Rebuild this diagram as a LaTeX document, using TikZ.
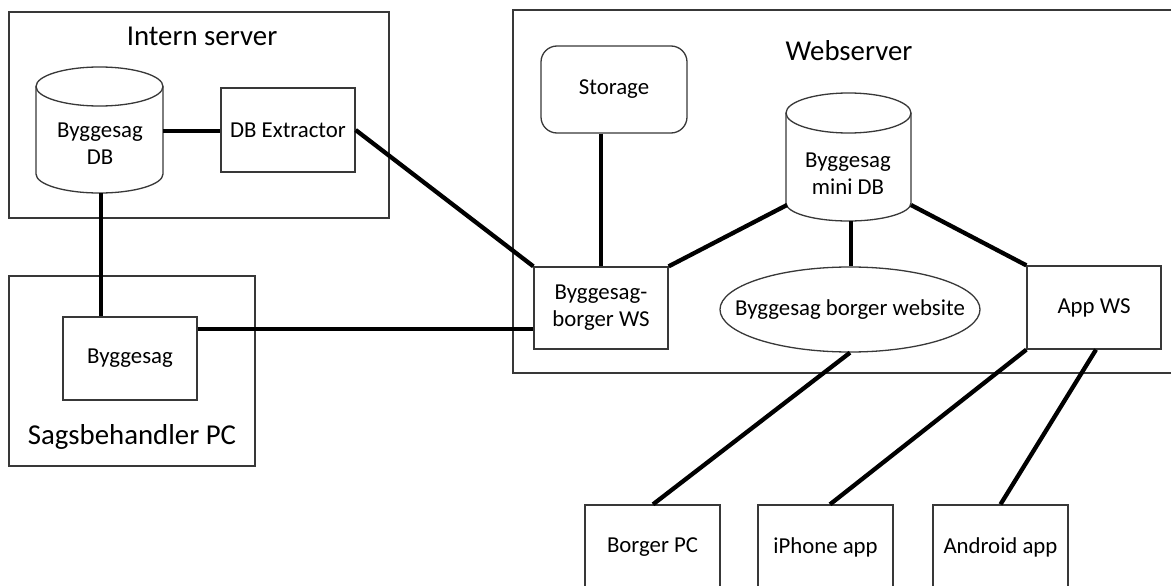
\documentclass[tikz,border=0pt]{standalone}
\usepackage{fontspec}
\setmainfont{Carlito}
\usetikzlibrary{shapes.geometric}
\begin{document}
\begin{tikzpicture}[x=1pt,y=-1pt,
  boxline/.style={draw=black!78,line width=1.3pt},
  frame/.style={boxline,rectangle,inner sep=0pt},
  unit/.style={boxline,rectangle,fill=white,inner sep=0pt,font=\fontsize{22.8}{27}\selectfont,align=center},
  title/.style={font=\fontsize{28.8}{32}\selectfont,inner sep=0pt},
  label/.style={font=\fontsize{22.8}{27}\selectfont,align=center,inner sep=0pt},
  link/.style={draw=black,line width=4.3pt}]
\fill[white] (0,0) rectangle (1171,586);
\useasboundingbox (0,0) rectangle (1171,586);

% --- Intern server ---
\node[frame,minimum width=380pt,minimum height=206pt] (intern) at (199,115) {};
\node[title] (interntitle) at (202,36) {Intern server};

% database cylinder: Byggesag DB
\node[inner sep=0pt,minimum width=127pt,minimum height=126pt] (db) at (99.5,130) {};
\filldraw[boxline,fill=white] (36,86.5) -- (36,174)
  arc[start angle=180,end angle=360,x radius=63.5pt,y radius=19pt] -- (163,86.5);
\draw[boxline] (99.5,86.5) ellipse[x radius=63.5pt,y radius=19.5pt];
\node[label] (dblabel) at (100,143.5) {Byggesag\\DB};

\node[unit,minimum width=134pt,minimum height=84pt] (extractor) at (288,130) {DB Extractor};

% --- Sagsbehandler PC ---
\node[frame,minimum width=246pt,minimum height=190pt] (sagsb) at (132,371) {};
\node[title] (sagsbtitle) at (132,437) {Sagsbehandler PC};
\node[unit,minimum width=134pt,minimum height=83pt] (byggesag) at (130,358.5) {Byggesag};

% --- Webserver ---
\node[frame,minimum width=667pt,minimum height=363pt] (web) at (846.5,191.5) {};
\node[title] (webtitle) at (849,51) {Webserver};
\node[unit,rounded corners=16pt,minimum width=146pt,minimum height=87pt] (storage) at (614,89.5) {Storage};
\node[unit,minimum width=134pt,minimum height=82pt] (ws) at (601,308) {Byggesag-\\borger WS};

% database cylinder: Byggesag mini DB
\node[inner sep=0pt,minimum width=125pt,minimum height=128pt] (minidb) at (848.5,157) {};
\filldraw[boxline,fill=white] (786,113) -- (786,203)
  arc[start angle=180,end angle=360,x radius=62.5pt,y radius=18pt] -- (911,113);
\draw[boxline] (848.5,113) ellipse[x radius=62.5pt,y radius=20pt];
\node[label] (minidblabel) at (848,173.5) {Byggesag\\mini DB};
\coordinate (minidbW) at (787,205);
\coordinate (minidbE) at (911,205);
\coordinate (minidbS) at (851,221);

% website: ellipse outline with its caption on top
\node[boxline,ellipse,inner sep=0pt,minimum width=260pt,minimum height=85pt] (website) at (850,309.5) {};
\node[label] (websitelabel) at (850,309.5) {Byggesag borger website};
\node[unit,minimum width=134pt,minimum height=83pt] (appws) at (1094,307.5) {App WS};

% --- clients ---
\node[unit,minimum width=135pt,minimum height=95pt] (borgerpc) at (652.5,552.5) {};
\node[label] at (652.5,547) {Borger PC};
\node[unit,minimum width=135pt,minimum height=95pt] (iphone) at (825.5,552.5) {};
\node[label] at (825.5,547) {iPhone app};
\node[unit,minimum width=135pt,minimum height=95pt] (android) at (1000.5,552.5) {};
\node[label] at (1000.5,547) {Android app};

% --- connections ---
\draw[link] (163,131) -- (extractor.west |- 0,131);
\draw[link] (101,193) -- (byggesag.north -| 101,0);
\draw[link] ([yshift=29.5pt]byggesag.east) -- (ws.west |- 0,329);
\draw[link] (extractor.east |- 0,130) -- (ws.north west);
\draw[link] (storage.south -| ws.north) -- (ws.north);
\draw[link] (ws.north east) -- (minidbW);
\draw[link] (minidbE) -- (appws.north west);
\draw[link] (minidbS) -- (website.north -| minidbS);
\draw[link] (website.south) -- (borgerpc.north -| 653,0);
\draw[link] (appws.south west) -- (iphone.north -| 830,0);
\draw[link] (appws.south -| 1096,0) -- (android.north);
\end{tikzpicture}
\end{document}
